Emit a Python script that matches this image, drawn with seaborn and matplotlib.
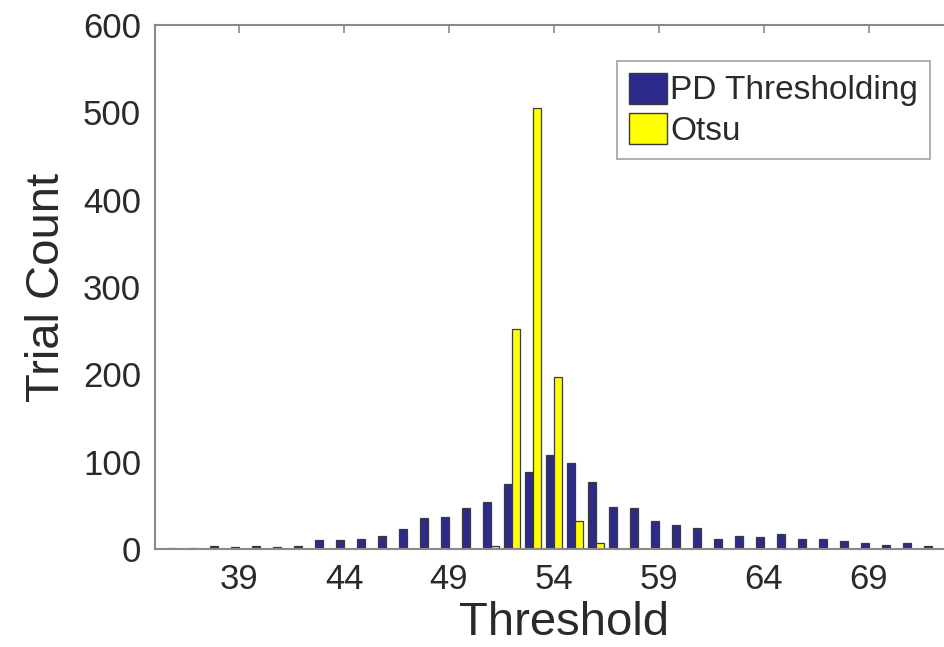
import numpy as np
import pandas as pd
import matplotlib
matplotlib.use("Agg")
import matplotlib.pyplot as plt
from matplotlib.patches import Patch
import seaborn as sns

# Threshold bins and per-method trial counts
thresholds = list(range(35, 73))
pd_counts = [0, 1, 1, 4, 2, 3, 2, 4, 10, 10, 12, 15, 23, 35, 37, 47, 54, 75,
             88, 108, 98, 77, 48, 47, 32, 27, 24, 11, 15, 14, 17, 11, 11, 9,
             7, 5, 7, 4]
otsu_counts = [0, 0, 0, 0, 0, 0, 0, 0, 0, 0, 0, 0, 0, 0, 0, 0, 3, 252,
               505, 197, 32, 7, 0, 0, 0, 0, 0, 0, 0, 0, 0, 0, 0, 0,
               0, 0, 0, 0]
methods = ["PD Thresholding", "Otsu"]
colors = {"PD Thresholding": "#2c2a8a", "Otsu": "#ffff00"}
x_ticks = [39, 44, 49, 54, 59, 64, 69]
y_ticks = [0, 100, 200, 300, 400, 500, 600]

df = pd.DataFrame({
    "Threshold": thresholds * 2,
    "Count": pd_counts + otsu_counts,
    "Method": [methods[0]] * len(thresholds) + [methods[1]] * len(thresholds),
})

sns.set_style("white")
plt.rcParams["font.family"] = ["Liberation Sans", "DejaVu Sans"]
text_color = "#2a2a2a"
spine_color = "#8a8a8a"

fig = plt.figure(figsize=(9.45, 6.47), dpi=100)
ax = fig.add_axes([155 / 945, 1 - 549 / 647, 819 / 945, 524 / 647])

sns.barplot(data=df, x="Threshold", y="Count", hue="Method",
            hue_order=methods, palette=colors, native_scale=True,
            width=0.8, errorbar=None, legend=False, ax=ax,
            edgecolor="#3a3a3a", linewidth=0.9, saturation=1)

ax.set_xlim(35, 74)
ax.set_ylim(0, 600)
ax.set_xticks(x_ticks)
ax.set_yticks(y_ticks)
ax.tick_params(direction="in", length=6, width=1.2, color=spine_color,
               top=True, right=True, labelsize=25, labelcolor=text_color,
               pad=10)
for s in ax.spines.values():
    s.set_color(spine_color)
    s.set_linewidth(1.5)

ax.set_xlabel("Threshold", fontsize=34, color=text_color, labelpad=4)
ax.set_ylabel("Trial Count", fontsize=34, color=text_color, labelpad=10)

handles = [Patch(facecolor=colors[m], edgecolor="#3a3a3a", linewidth=1.0)
           for m in methods]
leg = ax.legend(handles, methods, loc="upper left",
                bbox_to_anchor=(617 / 945, 1 - 61 / 647),
                bbox_transform=fig.transFigure, fontsize=24,
                frameon=True, fancybox=False, edgecolor="#8a8a8a",
                handlelength=1.15, handleheight=1.05, handletextpad=0.1,
                borderpad=0.35, labelspacing=0.2, borderaxespad=0)
leg.get_frame().set_linewidth(1.2)
for t in leg.get_texts():
    t.set_color(text_color)

fig.savefig("out.png", dpi=100)
